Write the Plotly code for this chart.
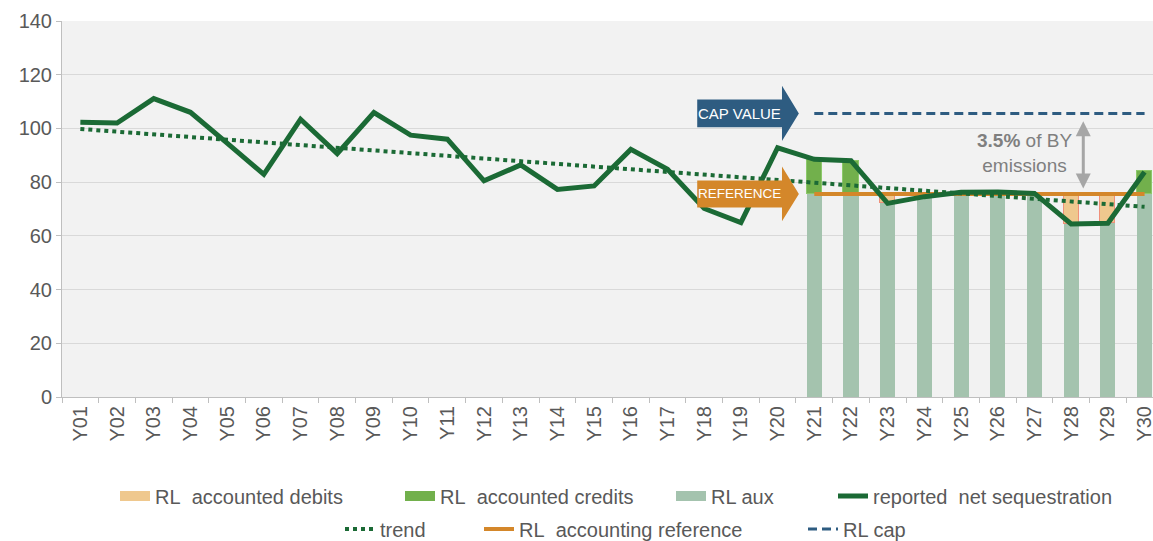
import plotly.graph_objects as go

categories = ["Y01", "Y02", "Y03", "Y04", "Y05", "Y06", "Y07", "Y08", "Y09", "Y10",
              "Y11", "Y12", "Y13", "Y14", "Y15", "Y16", "Y17", "Y18", "Y19", "Y20",
              "Y21", "Y22", "Y23", "Y24", "Y25", "Y26", "Y27", "Y28", "Y29", "Y30"]

reported = [102.3, 102.0, 111.1, 106.0, 94.5, 82.9, 103.4, 90.6, 105.9, 97.5,
            96.0, 80.5, 86.4, 77.3, 78.6, 92.2, 84.8, 70.2, 64.9, 92.8,
            88.5, 88.0, 72.1, 74.6, 76.2, 76.3, 75.8, 64.4, 64.7, 83.8]

trend = [99.8, 98.8, 97.8, 96.8, 95.8, 94.8, 93.8, 92.8, 91.8, 90.8,
         89.8, 88.8, 87.8, 86.8, 85.8, 84.8, 83.8, 82.8, 81.8, 80.8,
         79.8, 78.8, 77.8, 76.8, 75.8, 74.8, 73.8, 72.8, 71.8, 70.8]

period = ["Y21", "Y22", "Y23", "Y24", "Y25", "Y26", "Y27", "Y28", "Y29", "Y30"]
rl_aux = [75.6, 75.6, 72.1, 74.6, 75.6, 75.6, 75.6, 64.4, 64.7, 75.6]
rl_debits = [None, None, 3.5, 1.0, None, None, None, 11.2, 10.9, None]
rl_credits = [12.9, 12.4, None, None, 0.6, 0.7, 0.2, None, None, 8.4]
rl_reference = [75.6, 75.6, 75.6, 75.6, 75.6, 75.6, 75.6, 75.6, 75.6, 75.6]
rl_cap = [105.6, 105.6, 105.6, 105.6, 105.6, 105.6, 105.6, 105.6, 105.6, 105.6]

C_DEBIT = "#efc88e"
C_CREDIT = "#72b04c"
C_AUX = "#a4c3ae"
C_REPORTED = "#1b6a35"
C_REF = "#d4872a"
C_CAP = "#2e5c81"
TXT = "#595959"
FONT = "Liberation Sans, Arial, sans-serif"

idx = {c: i for i, c in enumerate(categories)}
xs_all = [idx[c] for c in categories]
xs_p = [idx[c] for c in period]

fig = go.Figure()

fig.add_trace(go.Bar(x=xs_p, y=rl_aux, width=0.41, marker=dict(color=C_AUX, line=dict(width=0)),
                     showlegend=False, hoverinfo="skip"))
fig.add_trace(go.Bar(x=xs_p, y=rl_debits, width=0.41,
                     marker=dict(color=C_DEBIT, line=dict(color="#f0907a", width=1)),
                     showlegend=False, hoverinfo="skip"))
fig.add_trace(go.Bar(x=xs_p, y=rl_credits, width=0.41,
                     marker=dict(color=C_CREDIT, line=dict(color="#8cc96a", width=1)),
                     showlegend=False, hoverinfo="skip"))

fig.add_trace(go.Scatter(x=xs_p, y=rl_cap, mode="lines",
                         line=dict(color=C_CAP, width=3, dash="9px,5px"), showlegend=False))
fig.add_trace(go.Scatter(x=xs_p, y=rl_reference, mode="lines",
                         line=dict(color=C_REF, width=4), showlegend=False))
fig.add_trace(go.Scatter(x=xs_all, y=trend, mode="lines",
                         line=dict(color=C_REPORTED, width=4, dash="dot"), showlegend=False))
fig.add_trace(go.Scatter(x=xs_all, y=reported, mode="lines",
                         line=dict(color=C_REPORTED, width=5), showlegend=False))

# legend proxies, each in its own legend for exact placement
legend_items = [
    ("RL\u00a0 accounted debits", dict(color=C_DEBIT, width=10), "legend", 155, 497),
    ("RL\u00a0 accounted credits", dict(color=C_CREDIT, width=10), "legend2", 440, 497),
    ("RL aux", dict(color=C_AUX, width=10), "legend3", 711, 497),
    ("reported\u00a0 net sequestration", dict(color=C_REPORTED, width=5), "legend4", 873, 497),
    ("trend", dict(color=C_REPORTED, width=4, dash="dot"), "legend5", 380, 530),
    ("RL\u00a0 accounting reference", dict(color=C_REF, width=4), "legend6", 519, 530),
    ("RL cap", dict(color=C_CAP, width=3, dash="9px,5px"), "legend7", 843, 530),
]
W, H = 1153, 541
legend_layout = {}
for name, line, lg, tx, ty in legend_items:
    fig.add_trace(go.Scatter(x=[None], y=[None], mode="lines", line=line, name=name, legend=lg))
    legend_layout[lg] = dict(x=(tx - 40) / W, y=1 - (ty - 1) / H, xref="container", yref="container",
                             xanchor="left", yanchor="middle", orientation="h",
                             bgcolor="rgba(0,0,0,0)", font=dict(size=20, color=TXT, family=FONT))

cv = rl_cap[0]
rv = rl_reference[0]
x0, x1, xt = 16.81, 19.12, 19.58


def arrow_path(v, rh, hh):
    return (f"M {x0},{v - rh} L {x1},{v - rh} L {x1},{v - hh} L {xt},{v} "
            f"L {x1},{v + hh} L {x1},{v + rh} L {x0},{v + rh} Z")


shapes = [
    dict(type="path", xref="x", yref="y", path=arrow_path(cv, 5.2, 10.3),
         fillcolor=C_CAP, line=dict(width=0), layer="above"),
    dict(type="path", xref="x", yref="y", path=arrow_path(rv, 5.0, 10.2),
         fillcolor=C_REF, line=dict(width=0), layer="above"),
]

annotations = [
    dict(x=17.95, y=cv, xref="x", yref="y", text="CAP VALUE", showarrow=False,
         font=dict(color="white", size=15, family=FONT)),
    dict(x=17.95, y=rv, xref="x", yref="y", text="REFERENCE", showarrow=False,
         font=dict(color="white", size=13.5, family=FONT)),
    dict(x=25.72, y=90.9, xref="x", yref="y", text="<b>3.5%</b> of BY<br>emissions",
         showarrow=False, align="center", font=dict(color="#7f7f7f", size=19, family=FONT)),
    dict(x=27.33, y=77.6, xref="x", yref="y", ax=27.33, ay=103.2, axref="x", ayref="y",
         text="", showarrow=True, arrowhead=2, arrowside="end+start", arrowwidth=3,
         arrowsize=1, arrowcolor="#a6a6a6"),
]

fig.update_layout(
    width=W, height=H,
    margin=dict(l=62, r=0, t=21, b=144, autoexpand=False),
    plot_bgcolor="#f2f2f2", paper_bgcolor="white",
    barmode="stack", bargap=0,
    font=dict(family=FONT, color=TXT, size=20),
    shapes=shapes, annotations=annotations,
    **legend_layout,
)

fig.update_xaxes(
    range=[-0.5, 29.23], tickmode="array", tickvals=xs_all, ticktext=categories,
    tickangle=-90, ticks="", showgrid=False, zeroline=False, automargin=False,
    ticklabeloverflow="allow",
    showline=True, linecolor="#bfbfbf", linewidth=1,
    tickfont=dict(size=20, color=TXT, family=FONT),
    minor=dict(tickmode="array", tickvals=[i - 0.5 for i in range(31)], ticks="outside",
               ticklen=5, tickcolor="#bfbfbf", showgrid=False),
)
fig.update_yaxes(
    range=[0, 140], tickmode="linear", dtick=20, showgrid=True, gridcolor="#d9d9d9",
    gridwidth=1, zeroline=False, showline=True, linecolor="#bfbfbf", linewidth=1,
    ticks="outside", ticklen=5, tickcolor="#bfbfbf", automargin=False,
    tickfont=dict(size=20, color=TXT, family=FONT),
)

fig.write_html("out.html", config={"displayModeBar": False},
               post_script="document.body.style.margin='0';document.body.style.padding='0';")
